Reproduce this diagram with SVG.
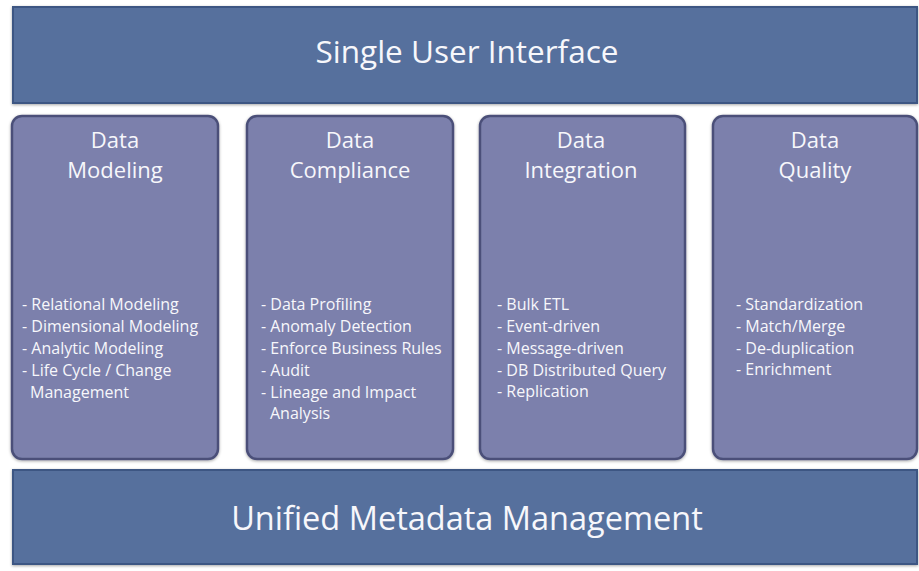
<svg xmlns="http://www.w3.org/2000/svg" width="919" height="571" viewBox="0 0 919 571">
<style>
.banner{fill:#566f9d;stroke:#3e5683;stroke-width:2}
.box{fill:#7b80ac;stroke:#4b5079;stroke-width:2.5}
.big{font-family:"Open Sans","Liberation Sans",sans-serif;fill:#f7f7fb;text-anchor:middle}
.hd{font-family:"Open Sans","Liberation Sans",sans-serif;fill:#f7f7fb;font-size:22px;text-anchor:middle}
.it{font-family:"Open Sans","Liberation Sans",sans-serif;fill:#f7f7fb;font-size:16px}
</style>
<defs>
<filter id="sh" x="-5%" y="-5%" width="110%" height="110%">
<feDropShadow dx="0" dy="1" stdDeviation="1.5" flood-color="#000" flood-opacity="0.35"/>
</filter>
</defs>
<rect width="919" height="571" fill="#ffffff"/>
<g id="single-user-interface">
<rect class="banner" x="13" y="7" width="904" height="96" filter="url(#sh)"/>
<text class="big" x="467" y="63" font-size="31.5">Single User Interface</text>
</g>
<g id="data-modeling">
<rect class="box" x="12" y="116" width="206" height="343" rx="10" filter="url(#sh)"/>
<text class="hd" x="115" y="148">Data</text>
<text class="hd" x="115" y="178">Modeling</text>
<text class="it" x="22" y="310">- Relational Modeling</text>
<text class="it" x="22" y="332">- Dimensional Modeling</text>
<text class="it" x="22" y="354">- Analytic Modeling</text>
<text class="it" x="22" y="376">- Life Cycle / Change</text>
<text class="it" x="30" y="398">Management</text>
</g>
<g id="data-compliance">
<rect class="box" x="247" y="116" width="206" height="343" rx="10" filter="url(#sh)"/>
<text class="hd" x="350" y="148">Data</text>
<text class="hd" x="350" y="178">Compliance</text>
<text class="it" x="261" y="310">- Data Profiling</text>
<text class="it" x="261" y="332">- Anomaly Detection</text>
<text class="it" x="261" y="354">- Enforce Business Rules</text>
<text class="it" x="261" y="376">- Audit</text>
<text class="it" x="261" y="398">- Lineage and Impact</text>
<text class="it" x="270" y="419">Analysis</text>
</g>
<g id="data-integration">
<rect class="box" x="480" y="116" width="205" height="343" rx="10" filter="url(#sh)"/>
<text class="hd" x="581" y="148">Data</text>
<text class="hd" x="581" y="178">Integration</text>
<text class="it" x="497" y="310">- Bulk ETL</text>
<text class="it" x="497" y="332">- Event-driven</text>
<text class="it" x="497" y="354">- Message-driven</text>
<text class="it" x="497" y="376">- DB Distributed Query</text>
<text class="it" x="497" y="397">- Replication</text>
</g>
<g id="data-quality">
<rect class="box" x="713" y="116" width="204" height="343" rx="10" filter="url(#sh)"/>
<text class="hd" x="815" y="148">Data</text>
<text class="hd" x="815" y="178">Quality</text>
<text class="it" x="736" y="310">- Standardization</text>
<text class="it" x="736" y="332">- Match/Merge</text>
<text class="it" x="736" y="354">- De-duplication</text>
<text class="it" x="736" y="375">- Enrichment</text>
</g>
<g id="unified-metadata-management">
<rect class="banner" x="13" y="470" width="904" height="94" filter="url(#sh)"/>
<text class="big" x="467" y="530" font-size="32.5">Unified Metadata Management</text>
</g>
<g id="connectors"></g>
</svg>
